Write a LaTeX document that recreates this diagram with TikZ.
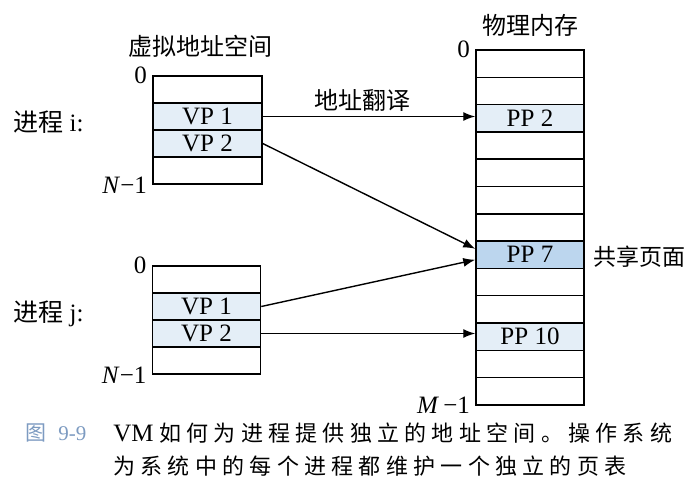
\documentclass[tikz,border=0pt]{standalone}
\usepackage{fontspec}
\setmainfont{Liberation Serif}
\newfontfamily\cjk{Noto Sans CJK SC}
\newfontfamily\capcjk[LetterSpace=24]{Noto Sans CJK SC}
\usetikzlibrary{arrows.meta,calc,positioning}
\definecolor{pagelight}{HTML}{E4EEF7}
\definecolor{pageshared}{HTML}{BCD6EE}
\definecolor{figblue}{HTML}{7D9BC1}
\tikzset{
  cell/.style={draw, line width=0.75pt, inner sep=0pt, minimum width=54.5pt, minimum height=13.5pt, font=\fontsize{12.5}{14}\selectfont},
  link/.style={-{Latex[length=6pt,width=4.5pt]}, line width=0.7pt},
  tag/.style={font=\fontsize{12.5}{14}\selectfont, inner sep=2.5pt},
  cjklabel/.style={font=\cjk\fontsize{12}{14}\selectfont, inner sep=1pt},
}

\begin{document}
\begin{tikzpicture}[x=0.5pt, y=-0.5pt]
  \useasboundingbox (0,0) rectangle (688,488);
  % process i
  \foreach \k in {0,...,3}
    \node[cell] (vi\k) at (207.5, 89.5+27*\k) {};
  \node[cell, fill=pagelight] (vpi1) at (vi1) {VP 1};
  \node[cell, fill=pagelight] (vpi2) at (vi2) {VP 2};
  \node[tag, anchor=east] (vizero) at (vi0.north west) {0};
  \node[tag, anchor=east] (viend) at (vi3.south west) {\textit{N}−1};
  \node[cjklabel] (vtitle) at (200,46) {虚拟地址空间};
  \node[tag, anchor=west, inner sep=0pt] (proci) at (13,122) {{\cjk 进程} i:};
  % process j
  \foreach \k in {0,...,3}
    \node[cell, minimum width=54pt] (vj\k) at (206.5, 279.5+27*\k) {};
  \node[cell, minimum width=54pt, fill=pagelight] (vpj1) at (vj1) {VP 1};
  \node[cell, minimum width=54pt, fill=pagelight] (vpj2) at (vj2) {VP 2};
  \node[tag, anchor=east] (vjzero) at (vj0.north west) {0};
  \node[tag, anchor=east] (vjend) at (vj3.south west) {\textit{N}−1};
  \node[tag, anchor=west, inner sep=0pt] (procj) at (13,314) {{\cjk 进程} j:};
  % physical memory
  \foreach \k in {0,...,12}
    \node[cell, minimum width=54pt, minimum height=13.65pt] (pm\k) at (530, 63.65+27.3*\k) {};
  \node[cell, minimum width=54pt, minimum height=13.65pt, fill=pagelight] (pp2) at (pm2) {PP 2};
  \node[cell, minimum width=54pt, minimum height=13.65pt, fill=pageshared] (pp7) at (pm7) {PP 7};
  \node[cell, minimum width=54pt, minimum height=13.65pt, fill=pagelight] (pp10) at (pm10) {PP 10};
  \node[tag, anchor=east] (pmzero) at (pm0.north west) {0};
  \node[tag, anchor=east] (pmend) at (pm12.south west) {\textit{M}\,−1};
  \node[cjklabel] (ptitle) at (530,25) {物理内存};
  \node[cjklabel, anchor=west, font=\cjk\fontsize{11.5}{14}\selectfont] (shared) at ($(pp7.east)+(6,2)$) {共享页面};
  % mappings
  \draw[link] (vpi1.east) -- (vpi1.east -| pp2.west);
  \node[cjklabel] (xlate) at (362,100) {地址翻译};
  \draw[link] (vpi2.east) -- ($(pp7.west)+(0,-6)$);
  \draw[link] (vpj1.east) -- ($(pp7.west)+(0,5)$);
  \draw[link] (vpj2.east) -- (vpj2.east -| pp10.west);
  % caption
  \node[anchor=west, inner sep=0pt, text=figblue, font=\fontsize{10.5}{12}\selectfont] (fignum) at (25,433) {{\cjk 图}\hspace{6pt}9-9};
  \node[anchor=west, inner sep=0pt, font=\fontsize{11}{13}\selectfont] (capa) at (113,433) {{\fontsize{12.5}{13}\selectfont VM} {\capcjk 如何为进程提供独立的地址空间。操作系统}};
  \node[anchor=west, inner sep=0pt, font=\fontsize{11}{13}\selectfont] (capb) at (113,466) {{\capcjk 为系统中的每个进程都维护一个独立的页表}};
\end{tikzpicture}
\end{document}
